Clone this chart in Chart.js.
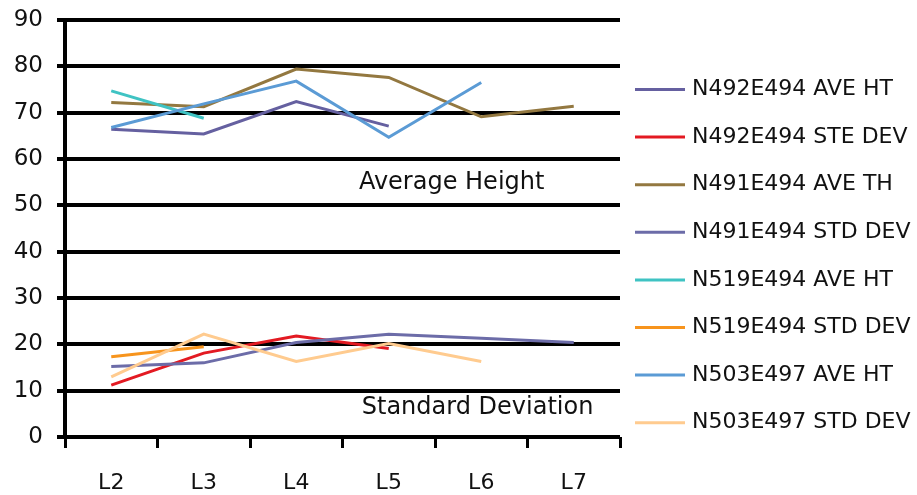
<!DOCTYPE html>
<html>
<head>
<meta charset="utf-8">
<script src="https://cdn.jsdelivr.net/npm/chart.js@4/dist/chart.umd.min.js"></script>
<style>
  html, body { margin: 0; padding: 0; background: #fff; }
  #wrap { width: 917px; height: 495px; position: relative; }
</style>
</head>
<body>
<div id="wrap"><canvas id="c" width="917" height="495"></canvas></div>
<script>
// Plot levels along the x axis
const levels = ['L2', 'L3', 'L4', 'L5', 'L6', 'L7'];
const yTicks = [0, 10, 20, 30, 40, 50, 60, 70, 80, 90];

// Series values per level (null where a plot has no reading)
const n492AveHt  = [66.4, 65.4, 72.4, 67.1, null, null];
const n492SteDev = [11.2, 18.1, 21.8, 19.1, null, null];
const n491AveTh  = [72.2, 71.3, 79.4, 77.6, 69.1, 71.4];
const n491StdDev = [15.2, 16.0, 20.4, 22.2, 21.3, 20.4];
const n519AveHt  = [74.7, 68.8, null, null, null, null];
const n519StdDev = [17.3, 19.5, null, null, null, null];
const n503AveHt  = [66.8, 71.9, 76.8, 64.7, 76.5, null];
const n503StdDev = [13.0, 22.2, 16.3, 20.2, 16.3, null];

const seriesNames = [
  'N492E494 AVE HT', 'N492E494 STE DEV', 'N491E494 AVE TH', 'N491E494 STD DEV',
  'N519E494 AVE HT', 'N519E494 STD DEV', 'N503E497 AVE HT', 'N503E497 STD DEV'
];
const seriesValues = [n492AveHt, n492SteDev, n491AveTh, n491StdDev, n519AveHt, n519StdDev, n503AveHt, n503StdDev];
const seriesColors = ['#6560a0', '#e31a22', '#937840', '#6c6ca8', '#3fc3c3', '#f7941d', '#5b9bd5', '#ffcb8f'];

// In-plot captions, placed in data space (category index, value)
const captions = [
  { text: 'Average Height', x: 3.68, y: 54.8 },
  { text: 'Standard Deviation', x: 3.96, y: 6.4 }
];

const FONT = 'DejaVu Sans, Verdana, sans-serif';

const captionPlugin = {
  id: 'captions',
  afterDatasetsDraw(chart) {
    const { ctx, scales } = chart;
    ctx.save();
    ctx.font = '24px ' + FONT;
    ctx.fillStyle = '#111';
    ctx.textAlign = 'center';
    ctx.textBaseline = 'middle';
    captions.forEach(c => {
      ctx.fillText(c.text, scales.x.getPixelForValue(c.x), scales.y.getPixelForValue(c.y));
    });
    ctx.restore();
  }
};

// Legend drawn as a column to the right of the plot
const sideLegend = {
  id: 'sideLegend',
  afterDraw(chart) {
    const { ctx, chartArea } = chart;
    const x0 = chartArea.right + 15;
    const lineLen = 50;
    const top = 89.5, step = 47.6;
    ctx.save();
    ctx.font = '22px ' + FONT;
    ctx.textAlign = 'left';
    ctx.textBaseline = 'middle';
    chart.data.datasets.forEach((ds, i) => {
      const y = top + i * step;
      ctx.strokeStyle = ds.borderColor;
      ctx.lineWidth = 3;
      ctx.beginPath();
      ctx.moveTo(x0, y);
      ctx.lineTo(x0 + lineLen, y);
      ctx.stroke();
      ctx.fillStyle = '#111';
      ctx.fillText(ds.label, x0 + lineLen + 7, y);
    });
    ctx.restore();
  }
};

new Chart(document.getElementById('c'), {
  type: 'line',
  data: {
    labels: levels,
    datasets: seriesNames.map((name, i) => ({
      label: name,
      data: seriesValues[i],
      borderColor: seriesColors[i],
      backgroundColor: seriesColors[i],
      borderWidth: 3,
      pointRadius: 0,
      tension: 0,
      spanGaps: false,
      order: seriesNames.length - i
    }))
  },
  options: {
    responsive: false,
    animation: false,
    layout: { padding: { top: 20, right: 297, left: 0, bottom: 0 } },
    plugins: { legend: { display: false }, tooltip: { enabled: false } },
    scales: {
      x: {
        offset: true,
        grid: { offset: true, drawOnChartArea: false, drawTicks: true, tickLength: 11, color: '#000', lineWidth: 3 },
        border: { display: false },
        ticks: { color: '#111', font: { family: FONT, size: 22 }, padding: 22, maxRotation: 0 },
        afterFit(scale) { scale.height = 58; }
      },
      y: {
        min: 0, max: 90,
        afterBuildTicks(scale) { scale.ticks = yTicks.map(v => ({ value: v })); },
        grid: { color: '#000', lineWidth: 4, tickLength: 8 },
        border: { display: true, color: '#000', width: 4 },
        ticks: { color: '#111', font: { family: FONT, size: 23 }, padding: 14 },
        afterFit(scale) {
          scale.width = 65;
          scale.paddingTop = 0;
          scale.paddingBottom = 0;
        }
      }
    }
  },
  plugins: [captionPlugin, sideLegend]
});
</script>
</body>
</html>
